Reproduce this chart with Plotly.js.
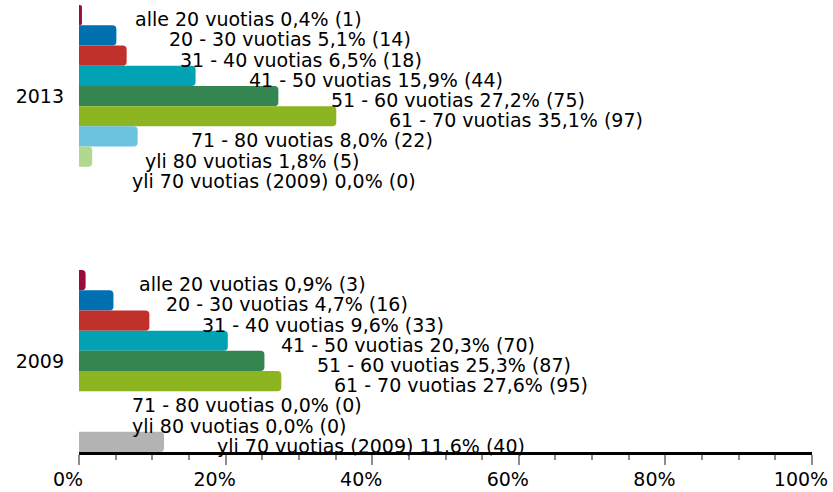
<!DOCTYPE html>
<html>
<head>
<meta charset="utf-8">
<script src="https://cdn.plot.ly/plotly-3.0.1.min.js"></script>
<style>html,body{margin:0;padding:0;background:#fff;}#chart{width:833px;height:492px;}</style>
</head>
<body>
<div id="chart"></div>
<script>
const categories = ['2013', '2009'];
const seriesNames = ['alle 20 vuotias', '20 - 30 vuotias', '31 - 40 vuotias', '41 - 50 vuotias',
  '51 - 60 vuotias', '61 - 70 vuotias', '71 - 80 vuotias', 'yli 80 vuotias', 'yli 70 vuotias (2009)'];
const pct2013 = [0.4, 5.1, 6.5, 15.9, 27.2, 35.1, 8.0, 1.8, 0.0];
const cnt2013 = [1, 14, 18, 44, 75, 97, 22, 5, 0];
const pct2009 = [0.9, 4.7, 9.6, 20.3, 25.3, 27.6, 0.0, 0.0, 11.6];
const cnt2009 = [3, 16, 33, 70, 87, 95, 0, 0, 40];
const xTickVals = [0, 20, 40, 60, 80, 100];
const xTickText = ['0%', '20%', '40%', '60%', '80%', '100%'];

const colors = ['#9b0a3c', '#0070b0', '#c0312b', '#00a2b4', '#358550', '#8cb521', '#6bc3de', '#b0d890', '#b3b3b3'];
const FONT = 'DejaVu Sans, Verdana, sans-serif';
const bargap = 0.313;
const nS = seriesNames.length;
const w = (1 - bargap) / nS;

const traces = seriesNames.map((name, i) => ({
  type: 'bar', orientation: 'h', name: name,
  y: categories, x: [pct2013[i], pct2009[i]],
  marker: {color: colors[i], line: {width: 0}},
  hoverinfo: 'none'
}));

const fmt = v => v.toFixed(1).replace('.', ',');
const annotations = [];
const pcts = [pct2013, pct2009];
const cnts = [cnt2013, cnt2009];
categories.forEach((c, ci) => {
  seriesNames.forEach((name, i) => {
    annotations.push({
      x: pcts[ci][i], y: ci - (1 - bargap) / 2 + (i + 0.5) * w,
      xref: 'x', yref: 'y',
      text: name + ' ' + fmt(pcts[ci][i]) + '% (' + cnts[ci][i] + ')',
      showarrow: false, xanchor: 'left', yanchor: 'middle',
      xshift: 51, yshift: -4,
      font: {family: FONT, size: 19, color: '#000'}
    });
  });
});

const layout = {
  width: 833, height: 492,
  margin: {l: 79, r: 21, t: 5, b: 40},
  paper_bgcolor: '#fff', plot_bgcolor: '#fff',
  barmode: 'group', bargap: bargap, bargroupgap: 0,
  barcornerradius: 4,
  showlegend: false,
  font: {family: FONT, size: 19, color: '#000'},
  xaxis: {
    range: [0, 100], autorange: false,
    showgrid: false, zeroline: false,
    showline: true, linecolor: '#000', linewidth: 3,
    layer: 'below traces',
    ticks: 'outside', ticklen: 10, tickwidth: 2, tickcolor: '#8c8c8c',
    tickmode: 'array', tickvals: xTickVals, ticktext: xTickText,
    ticklabelshift: -11, ticklabelstandoff: -2,
    tickfont: {family: FONT, size: 19, color: '#000'},
    minor: {dtick: 5, ticks: 'outside', ticklen: 5, tickwidth: 2, tickcolor: '#8c8c8c', showgrid: false}
  },
  yaxis: {
    type: 'category',
    range: [1 + (1 - bargap) / 2, -(1 - bargap) / 2], autorange: false,
    showgrid: false, zeroline: false, showline: false,
    ticks: '', ticklabelstandoff: 14,
    tickfont: {family: FONT, size: 19, color: '#000'}
  },
  annotations: annotations
};

Plotly.newPlot('chart', traces, layout, {displayModeBar: false, staticPlot: true});
</script>
</body>
</html>
